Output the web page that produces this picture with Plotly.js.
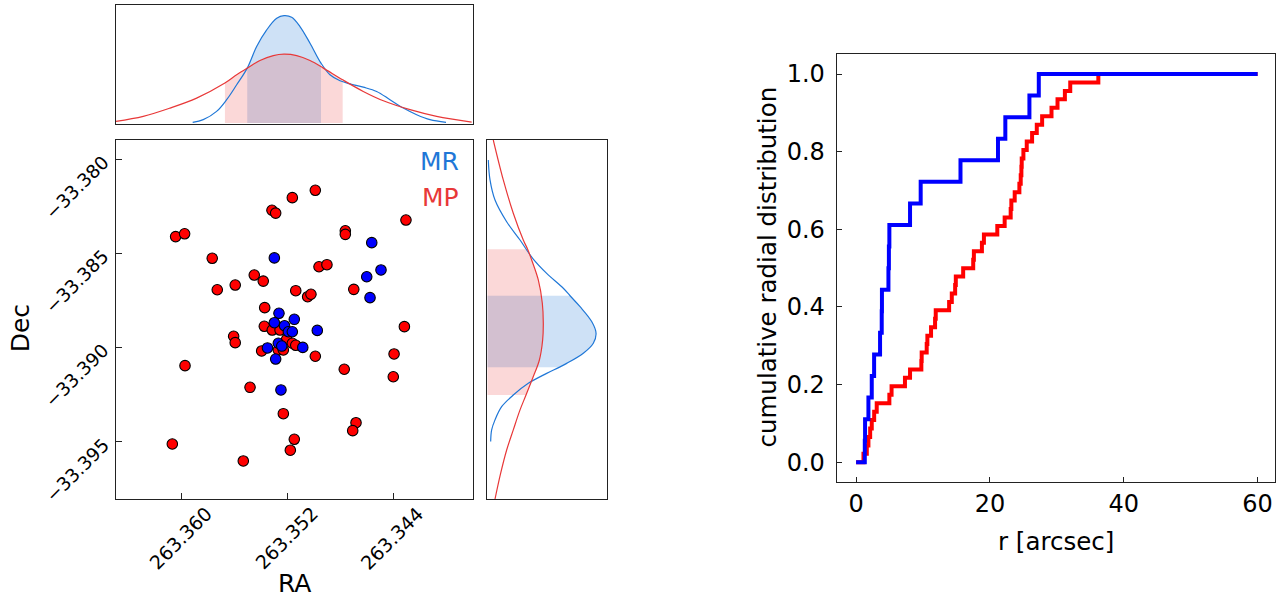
<!DOCTYPE html>
<html>
<head>
<meta charset="utf-8">
<script src="https://cdn.plot.ly/plotly-3.0.1.min.js"></script>
<style>html,body{margin:0;padding:0;background:#fff;}#chart{width:1276px;height:601px;}</style>
</head>
<body>
<div id="chart"></div>
<script>
// ---------------- DATA ----------------
// Scatter: MR (blue) and MP (red) positions
const mrRA = [263.35301, 263.34564, 263.34494, 263.34602, 263.34577, 263.35266, 263.35150, 263.35301, 263.35224, 263.35195, 263.35165, 263.34976, 263.35271, 263.35245, 263.35353, 263.35086, 263.35291, 263.35251];
const mrDec = [-33.38525, -33.38444, -33.38589, -33.38625, -33.38736, -33.38819, -33.38851, -33.38869, -33.38885, -33.38917, -33.38917, -33.38910, -33.38978, -33.38993, -33.39003, -33.39000, -33.39062, -33.39226];
const mpRA = [263.36048, 263.35980, 263.35771, 263.35733, 263.35597, 263.35453, 263.35385, 263.35319, 263.35291, 263.35165, 263.34991, 263.34764, 263.34764, 263.34963, 263.34903, 263.35139, 263.35049, 263.35024, 263.34700, 263.35374, 263.34305, 263.34317, 263.34395, 263.34401, 263.34683, 263.34708, 263.35377, 263.35317, 263.35258, 263.35609, 263.35597, 263.35208, 263.35165, 263.35139, 263.35397, 263.35271, 263.35233, 263.34991, 263.35977, 263.34772, 263.35485, 263.35233, 263.35150, 263.36073, 263.35180, 263.35536];
const mpDec = [-33.38412, -33.38397, -33.38527, -33.38694, -33.38669, -33.38616, -33.38648, -33.38272, -33.38287, -33.38205, -33.38166, -33.38381, -33.38400, -33.38572, -33.38561, -33.38699, -33.38731, -33.38718, -33.38692, -33.38789, -33.38324, -33.38890, -33.39035, -33.39156, -33.39400, -33.39442, -33.38888, -33.38908, -33.38908, -33.38941, -33.38975, -33.38957, -33.38978, -33.38989, -33.39019, -33.39014, -33.39014, -33.39047, -33.39097, -33.39116, -33.39212, -33.39352, -33.39488, -33.39513, -33.39546, -33.39603];

// Top marginal density (RA) (relative units)
const topMrRA = [263.35919, 263.35839, 263.35738, 263.35662, 263.35586, 263.35506, 263.35435, 263.35359, 263.35283, 263.35228, 263.35170, 263.35107, 263.35031, 263.34948, 263.34880, 263.34804, 263.34728, 263.34628, 263.34527, 263.34426, 263.34325, 263.34224, 263.34123, 263.34002];
const topMrDens = [0.006, 0.031, 0.108, 0.217, 0.356, 0.511, 0.712, 0.867, 0.975, 1.0, 0.985, 0.898, 0.743, 0.557, 0.449, 0.393, 0.365, 0.334, 0.294, 0.217, 0.139, 0.077, 0.031, 0.006];
const topMpRA = [263.36500, 263.36293, 263.36091, 263.35889, 263.35675, 263.35586, 263.35506, 263.35410, 263.35309, 263.35228, 263.35132, 263.35031, 263.34930, 263.34784, 263.34628, 263.34476, 263.34274, 263.34073, 263.33808];
const topMpDens = [0.015, 0.062, 0.139, 0.232, 0.372, 0.449, 0.511, 0.582, 0.628, 0.641, 0.628, 0.582, 0.511, 0.402, 0.294, 0.207, 0.124, 0.062, 0.009];
const mrRABand = [263.34948, 263.35506];
const mpRABand = [263.34784, 263.35675];

// Right marginal density (Dec)
const rightMrDec = [-33.38005, -33.38111, -33.38218, -33.38333, -33.38430, -33.38527, -33.38607, -33.38686, -33.38726, -33.38784, -33.38863, -33.38925, -33.38978, -33.39031, -33.39085, -33.39106, -33.39138, -33.39191, -33.39253, -33.39315, -33.39385, -33.39438, -33.39500];
const rightMrDens = [0.009, 0.025, 0.071, 0.178, 0.301, 0.417, 0.546, 0.699, 0.761, 0.853, 0.960, 1.0, 0.975, 0.883, 0.730, 0.660, 0.546, 0.377, 0.239, 0.132, 0.071, 0.040, 0.031];
const rightMpDec = [-33.37899, -33.38111, -33.38288, -33.38430, -33.38479, -33.38536, -33.38642, -33.38766, -33.38872, -33.38961, -33.39067, -33.39155, -33.39253, -33.39332, -33.39438, -33.39545, -33.39668, -33.39805];
const rightMpDens = [0.055, 0.147, 0.239, 0.331, 0.371, 0.408, 0.469, 0.506, 0.515, 0.509, 0.479, 0.423, 0.356, 0.301, 0.239, 0.178, 0.123, 0.071];
const mrDecBand = [-33.39106, -33.38726];
const mpDecBand = [-33.39253, -33.38479];

// Cumulative radial distribution: sorted radii [arcsec]
const mrRadius = [1.3, 1.34, 1.84, 2.34, 2.69, 3.58, 3.83, 3.86, 4.83, 4.9, 4.97, 8.06, 9.65, 15.6, 21.2, 22.3, 25.9, 27.3];
const mpRadius = [1.1, 1.6, 1.84, 2.1, 2.34, 2.7, 3.08, 4.97, 5.3, 7.3, 8.06, 9.75, 9.8, 10.55, 10.65, 11.2, 11.8, 11.9, 13.9, 14.3, 14.8, 14.9, 16.0, 17.5, 17.6, 18.8, 19.1, 21.1, 22.2, 23.1, 23.2, 23.7, 24.4, 24.6, 24.7, 24.75, 25.0, 25.5, 26.3, 27.0, 27.8, 29.2, 30.1, 31.2, 32.0, 36.2];
const rMax = 60;

// Tick labels
const raTicks = [263.360, 263.352, 263.344];
const raTickText = ['263.360', '263.352', '263.344'];
const decTicks = [-33.380, -33.385, -33.390, -33.395];
const decTickText = ['\u221233.380', '\u221233.385', '\u221233.390', '\u221233.395'];
const cumXTicks = [0, 20, 40, 60];
const cumYTicks = [0, 0.2, 0.4, 0.6, 0.8, 1.0];

// ---------------- STYLE ----------------
const FONT = 'DejaVu Sans, Verdana, sans-serif';
const BLUE = 'rgb(31,119,215)';
const RED = 'rgb(232,56,56)';
const W = 1276, H = 601;
const px = v => v / W, py = v => 1 - v / H;

function band(xs, ys, lo, hi) {
  const ox = [], oy = [];
  for (let i = 0; i < xs.length; i++) {
    if (xs[i] >= lo - 1e-7 && xs[i] <= hi + 1e-7) { ox.push(xs[i]); oy.push(ys[i]); }
  }
  return [ox, oy];
}
function cdf(r) {
  const xs = [0], ys = [0];
  r.forEach((v, i) => { xs.push(v); ys.push((i + 1) / r.length); });
  xs.push(rMax); ys.push(1);
  return [xs, ys];
}

const [tbx, tby] = band(topMrRA, topMrDens, mrRABand[0], mrRABand[1]);
const [trx, try_] = band(topMpRA, topMpDens, mpRABand[0], mpRABand[1]);
const [rby, rbx] = band(rightMrDec, rightMrDens, mrDecBand[0], mrDecBand[1]);
const [rry, rrx] = band(rightMpDec, rightMpDens, mpDecBand[0], mpDecBand[1]);
const [cmx, cmy] = cdf(mrRadius);
const [cpx, cpy] = cdf(mpRadius);

const traces = [
  // scatter
  {x: mpRA, y: mpDec, type: 'scatter', mode: 'markers', xaxis: 'x', yaxis: 'y',
   marker: {color: '#ff0000', size: 10.5, line: {color: '#000', width: 1.1}}},
  {x: mrRA, y: mrDec, type: 'scatter', mode: 'markers', xaxis: 'x', yaxis: 'y',
   marker: {color: '#0000ff', size: 10.5, line: {color: '#000', width: 1.1}}},
  // top marginal fills
  {x: tbx, y: tby, type: 'scatter', mode: 'lines', fill: 'tozeroy', xaxis: 'x2', yaxis: 'y2',
   line: {width: 0, color: BLUE}, fillcolor: 'rgba(31,119,215,0.22)'},
  {x: trx, y: try_, type: 'scatter', mode: 'lines', fill: 'tozeroy', xaxis: 'x2', yaxis: 'y2',
   line: {width: 0, color: RED}, fillcolor: 'rgba(235,60,60,0.2)'},
  // top marginal curves
  {x: topMrRA, y: topMrDens, type: 'scatter', mode: 'lines', xaxis: 'x2', yaxis: 'y2',
   line: {width: 1.2, color: BLUE, shape: 'spline', smoothing: 1}},
  {x: topMpRA, y: topMpDens, type: 'scatter', mode: 'lines', xaxis: 'x2', yaxis: 'y2',
   line: {width: 1.2, color: RED, shape: 'spline', smoothing: 1}},
  // right marginal fills
  {x: rbx, y: rby, type: 'scatter', mode: 'lines', fill: 'tozerox', xaxis: 'x3', yaxis: 'y3',
   line: {width: 0, color: BLUE}, fillcolor: 'rgba(31,119,215,0.22)'},
  {x: rrx, y: rry, type: 'scatter', mode: 'lines', fill: 'tozerox', xaxis: 'x3', yaxis: 'y3',
   line: {width: 0, color: RED}, fillcolor: 'rgba(235,60,60,0.2)'},
  // right marginal curves
  {x: rightMrDens, y: rightMrDec, type: 'scatter', mode: 'lines', xaxis: 'x3', yaxis: 'y3',
   line: {width: 1.2, color: BLUE, shape: 'spline', smoothing: 1}},
  {x: rightMpDens, y: rightMpDec, type: 'scatter', mode: 'lines', xaxis: 'x3', yaxis: 'y3',
   line: {width: 1.2, color: RED, shape: 'spline', smoothing: 1}},
  // cumulative
  {x: cpx, y: cpy, type: 'scatter', mode: 'lines', xaxis: 'x4', yaxis: 'y4',
   line: {width: 4, color: '#ff0000', shape: 'hv'}},
  {x: cmx, y: cmy, type: 'scatter', mode: 'lines', xaxis: 'x4', yaxis: 'y4',
   line: {width: 4, color: '#0000ff', shape: 'hv'}}
];

const frame = {showline: true, mirror: true, linecolor: '#222', linewidth: 1, showgrid: false, zeroline: false};
const scDomX = [px(115.5), px(472.7)], scDomY = [py(499), py(140)];
const raRange = [263.36503, 263.33800], decRange = [-33.39805, -33.37899];

const annotations = [];
raTicks.forEach((v, i) => annotations.push({xref: 'x', yref: 'paper', x: v, y: py(537.5), text: raTickText[i],
  textangle: -45, xanchor: 'center', yanchor: 'middle', showarrow: false, xshift: -1.5,
  font: {family: FONT, size: 19, color: '#000'}}));
decTicks.forEach((v, i) => annotations.push({xref: 'paper', yref: 'y', x: px(77), y: v, yshift: -28.5, text: decTickText[i],
  textangle: -45, xanchor: 'center', yanchor: 'middle', showarrow: false,
  font: {family: FONT, size: 18.5, color: '#000'}}));
annotations.push({xref: 'paper', yref: 'paper', x: px(294), y: py(600), text: 'RA', showarrow: false,
  xanchor: 'center', yanchor: 'bottom', font: {family: FONT, size: 25, color: '#000'}});
annotations.push({xref: 'paper', yref: 'paper', x: px(20), y: py(328.3), text: 'Dec', showarrow: false, textangle: -90,
  xanchor: 'center', yanchor: 'middle', font: {family: FONT, size: 25, color: '#000'}});
annotations.push({xref: 'paper', yref: 'paper', x: px(461), y: py(161.7), text: 'MR', showarrow: false,
  xanchor: 'right', yanchor: 'middle', font: {family: FONT, size: 25, color: BLUE}});
annotations.push({xref: 'paper', yref: 'paper', x: px(461), y: py(197.3), text: 'MP', showarrow: false,
  xanchor: 'right', yanchor: 'middle', font: {family: FONT, size: 25, color: RED}});
annotations.push({xref: 'paper', yref: 'paper', x: px(1055.5), y: py(541), text: 'r [arcsec]', showarrow: false,
  xanchor: 'center', yanchor: 'middle', font: {family: FONT, size: 24.5, color: '#000'}});
annotations.push({xref: 'paper', yref: 'paper', x: px(766.5), y: py(267), text: 'cumulative radial distribution', showarrow: false,
  textangle: -90, xanchor: 'center', yanchor: 'middle', font: {family: FONT, size: 24.5, color: '#000'}});

const layout = {
  width: W, height: H, margin: {l: 0, r: 0, t: 0, b: 0, pad: 0},
  paper_bgcolor: '#fff', plot_bgcolor: '#fff', showlegend: false,
  font: {family: FONT, color: '#000'},
  xaxis: Object.assign({}, frame, {domain: scDomX, anchor: 'y', range: raRange, tickvals: raTicks,
    showticklabels: false, ticks: 'inside', ticklen: 6, tickwidth: 1, tickcolor: '#222'}),
  yaxis: Object.assign({}, frame, {domain: scDomY, anchor: 'x', range: decRange, tickvals: decTicks,
    showticklabels: false, ticks: 'inside', ticklen: 6, tickwidth: 1, tickcolor: '#222'}),
  xaxis2: Object.assign({}, frame, {domain: scDomX, anchor: 'y2', range: raRange, showticklabels: false, ticks: ''}),
  yaxis2: Object.assign({}, frame, {domain: [py(124), py(5)], anchor: 'x2', range: [-0.0093, 1.099], showticklabels: false, ticks: ''}),
  xaxis3: Object.assign({}, frame, {domain: [px(487.3), px(606.7)], anchor: 'y3', range: [0, 1.098], showticklabels: false, ticks: ''}),
  yaxis3: Object.assign({}, frame, {domain: scDomY, anchor: 'x3', range: decRange, showticklabels: false, ticks: ''}),
  xaxis4: Object.assign({}, frame, {domain: [px(836.7), px(1275)], anchor: 'y4', range: [-2.9, 62.6],
    tickvals: cumXTicks, ticks: 'inside', ticklen: 5, tickwidth: 1, tickcolor: '#222',
    tickfont: {family: FONT, size: 24, color: '#000'}, ticklabelstandoff: 0}),
  yaxis4: Object.assign({}, frame, {domain: [py(481.7), py(54)], anchor: 'x4', range: [-0.05, 1.0515],
    tickvals: cumYTicks, tickformat: '.1f', ticks: 'inside', ticklen: 5, tickwidth: 1, tickcolor: '#222',
    tickfont: {family: FONT, size: 24, color: '#000'}, ticklabelstandoff: 6}),
  annotations: annotations
};

Plotly.newPlot('chart', traces, layout, {staticPlot: true, displayModeBar: false});
</script>
</body>
</html>
